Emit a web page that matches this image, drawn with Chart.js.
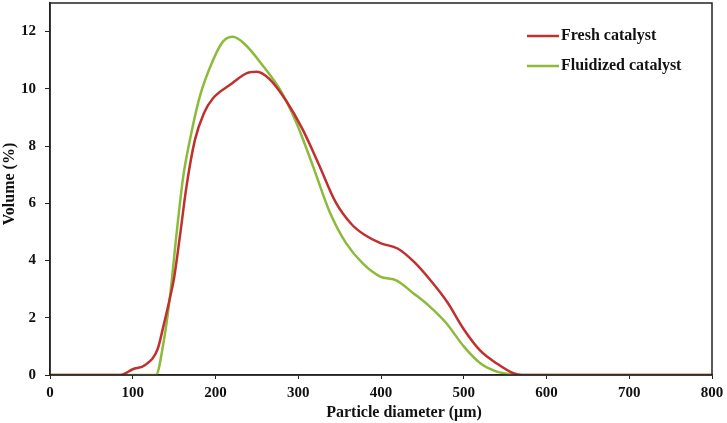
<!DOCTYPE html>
<html lang="en">
<head>
  <meta charset="UTF-8">
  <title>Particle size distribution</title>
  <script src="https://cdn.jsdelivr.net/npm/chart.js"></script>
  <style>
    html, body { margin: 0; padding: 0; background: #fff; }
    #wrap { width: 727px; height: 423px; position: relative; }
  </style>
</head>
<body>
<div id="wrap">
  <canvas id="myChart"></canvas>
</div>

<script>
  // diameters (µm) and volume (%)
  const freshDiam = [0, 85, 100, 115, 130, 137, 145, 150, 157, 165, 175, 186, 197, 218, 238, 250, 265, 285, 305, 325, 345, 365, 380, 400, 420, 440, 460, 480, 500, 520, 540, 560, 570, 800];
  const freshVol  = [0, 0, 0.2, 0.35, 0.9, 1.7, 2.7, 3.4, 4.85, 6.6, 8.2, 9.15, 9.67, 10.15, 10.55, 10.6, 10.35, 9.6, 8.6, 7.35, 6.05, 5.25, 4.9, 4.6, 4.42, 3.95, 3.3, 2.55, 1.6, 0.85, 0.4, 0.06, 0, 0];

  const fluidDiam = [0, 128, 137, 145, 153, 161, 169, 181, 197, 209, 221, 234, 258, 278, 298, 318, 338, 358, 378, 399, 419, 439, 459, 479, 500, 520, 540, 560, 570, 800];
  const fluidVol  = [0, 0, 1.1, 2.74, 4.95, 6.93, 8.2, 9.73, 11.0, 11.65, 11.82, 11.6, 10.78, 9.97, 8.8, 7.28, 5.7, 4.6, 3.9, 3.44, 3.3, 2.86, 2.39, 1.81, 1.0, 0.41, 0.12, 0.02, 0, 0];

  const seriesNames = ['Fresh catalyst', 'Fluidized catalyst'];
  const xTicks = [0, 100, 200, 300, 400, 500, 600, 700, 800];
  const yTicks = [0, 2, 4, 6, 8, 10, 12];
  const xTitle = 'Particle diameter (μm)';
  const yTitle = 'Volume (%)';

  const serif = '"Liberation Serif", "Times New Roman", serif';
  const font = { family: serif, size: 15, weight: 'bold' };

  function points(xs, ys) {
    return xs.map((x, i) => ({ x: x, y: ys[i] }));
  }

  // box round the plot, axis titles and the legend inside the plot area
  const frame = {
    id: 'frame',
    afterDraw(chart) {
      const c = chart.ctx;
      const a = chart.chartArea;
      c.save();
      c.strokeStyle = '#222';
      c.lineWidth = 1.5;
      c.strokeRect(a.left, a.top, a.right - a.left, a.bottom - a.top);

      c.fillStyle = '#111';
      c.font = 'bold 16px ' + serif;
      c.textAlign = 'center';
      c.textBaseline = 'middle';
      c.fillText(xTitle, 404, 413);

      c.save();
      c.translate(10, 184);
      c.rotate(-Math.PI / 2);
      c.fillText(yTitle, 0, 0);
      c.restore();

      c.textAlign = 'left';
      chart.data.datasets.forEach((ds, i) => {
        const y = 36 + i * 30;
        c.strokeStyle = ds.borderColor;
        c.lineWidth = 2.5;
        c.beginPath();
        c.moveTo(527, y);
        c.lineTo(559, y);
        c.stroke();
        c.fillStyle = '#111';
        c.fillText(ds.label, 561, y);
      });
      c.restore();
    }
  };

  const ctx = document.getElementById('myChart');

  new Chart(ctx, {
    type: 'scatter',
    data: {
      datasets: [{
        label: seriesNames[0],
        data: points(freshDiam, freshVol),
        showLine: true,
        borderColor: '#C0302E',
        borderWidth: 2.5,
        pointRadius: 0,
        cubicInterpolationMode: 'monotone'
      }, {
        label: seriesNames[1],
        data: points(fluidDiam, fluidVol),
        showLine: true,
        borderColor: '#8DBA3A',
        borderWidth: 2.5,
        pointRadius: 0,
        cubicInterpolationMode: 'monotone'
      }]
    },
    options: {
      responsive: true,
      maintainAspectRatio: false,
      animation: false,
      layout: { padding: { top: 3, right: 15, left: 0, bottom: 0 } },
      plugins: {
        legend: { display: false },
        tooltip: { enabled: false }
      },
      scales: {
        x: {
          type: 'linear',
          min: 0,
          max: 800,
          afterBuildTicks: s => { s.ticks = xTicks.map(v => ({ value: v })); },
          afterFit: s => { s.height = 48; s.paddingLeft = 0; s.paddingRight = 0; },
          grid: { drawOnChartArea: false, drawTicks: true, tickLength: 4, color: '#222' },
          border: { color: '#222', width: 1.5 },
          ticks: { color: '#111', font: font, padding: 5, maxRotation: 0 }
        },
        y: {
          min: 0,
          max: 13,
          afterBuildTicks: s => { s.ticks = yTicks.map(v => ({ value: v })); },
          afterFit: s => { s.width = 50; s.paddingTop = 0; s.paddingBottom = 0; },
          grid: { drawOnChartArea: false, drawTicks: true, tickLength: 5, color: '#222' },
          border: { color: '#222', width: 1.5 },
          ticks: { color: '#111', font: font, padding: 9 }
        }
      }
    },
    plugins: [frame]
  });
</script>
</body>
</html>
